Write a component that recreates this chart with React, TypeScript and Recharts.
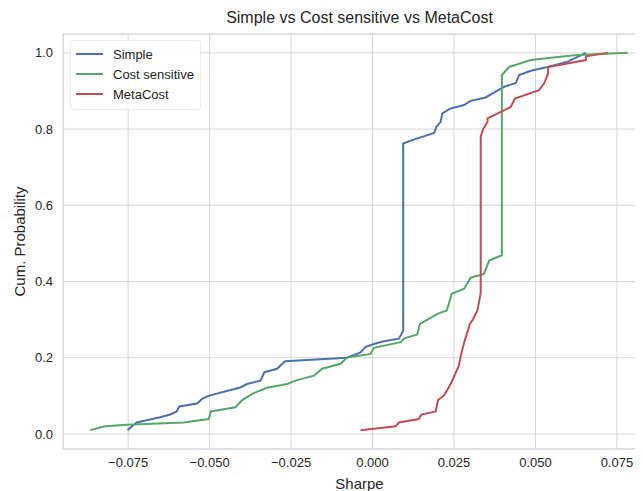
import { LineChart, Line, XAxis, YAxis, CartesianGrid, ReferenceLine } from 'recharts'

// ECDF curves
const simpleX = [
  -0.0752, -0.0724, -0.0652, -0.0621, -0.0601, -0.0593, -0.0539, -0.0523, -0.0503, -0.0442,
  -0.0406, -0.0385, -0.0344, -0.0332, -0.0293, -0.0268, -0.0078, -0.0037, -0.0022, 0.0004,
  0.0035, 0.0081, 0.0086, 0.0094, 0.0094, 0.0122, 0.0189, 0.0196, 0.0209, 0.0214,
  0.024, 0.0281, 0.0301, 0.0347, 0.0378, 0.0404, 0.044, 0.045, 0.0486, 0.0537,
  0.0599, 0.0655,
]
const simpleY = [
  0.01, 0.03, 0.044, 0.051, 0.059, 0.072, 0.08, 0.092, 0.1, 0.114,
  0.122, 0.131, 0.14, 0.162, 0.171, 0.191, 0.2, 0.214, 0.228, 0.236,
  0.243, 0.25, 0.258, 0.271, 0.762, 0.771, 0.79, 0.806, 0.819, 0.841,
  0.854, 0.863, 0.874, 0.883, 0.898, 0.911, 0.921, 0.942, 0.953, 0.963,
  0.977, 1.0,
]

const costX = [
  -0.0867, -0.0821, -0.0754, -0.058, -0.0503, -0.0496, -0.0421, -0.04, -0.0365, -0.0324,
  -0.0262, -0.0237, -0.018, -0.0155, -0.0098, -0.0078, -0.0037, -0.0006, 0.0004, 0.0086,
  0.0098, 0.0137, 0.0146, 0.0199, 0.0228, 0.0243, 0.0281, 0.0301, 0.0342, 0.0358,
  0.0397, 0.0397, 0.0419, 0.0486, 0.0619, 0.0783,
]
const costY = [
  0.01, 0.02, 0.024, 0.03, 0.039, 0.059, 0.07, 0.089, 0.107, 0.121,
  0.131, 0.14, 0.153, 0.171, 0.184, 0.201, 0.206, 0.21, 0.226, 0.241,
  0.251, 0.261, 0.289, 0.315, 0.324, 0.368, 0.381, 0.41, 0.42, 0.455,
  0.469, 0.942, 0.963, 0.981, 0.994, 1.0,
]

const metaX = [
  -0.0037, 0.0071, 0.0081, 0.0142, 0.015, 0.0194, 0.0201, 0.0219, 0.024, 0.0265,
  0.0273, 0.0283, 0.0299, 0.0306, 0.0322, 0.0332, 0.0332, 0.034, 0.0353, 0.0353,
  0.0394, 0.0424, 0.0437, 0.0511, 0.0527, 0.0539, 0.0539, 0.0655, 0.0655, 0.0722,
]
const metaY = [
  0.01, 0.02, 0.03, 0.039, 0.051, 0.059, 0.089, 0.101, 0.131, 0.179,
  0.214, 0.245, 0.289, 0.298, 0.324, 0.37, 0.78, 0.801, 0.819, 0.828,
  0.845, 0.858, 0.88, 0.902, 0.92, 0.946, 0.963, 0.981, 0.991, 1.0,
]

const xTicks = [-0.075, -0.05, -0.025, 0, 0.025, 0.05, 0.075]
const yTicks = [0, 0.2, 0.4, 0.6, 0.8, 1.0]

const toPoints = (xs: number[], ys: number[]) => xs.map((x, i) => ({ x, y: ys[i] }))

const series = [
  { name: 'Simple', color: '#4C72B0', data: toPoints(simpleX, simpleY) },
  { name: 'Cost sensitive', color: '#55A868', data: toPoints(costX, costY) },
  { name: 'MetaCost', color: '#C44E52', data: toPoints(metaX, metaY) },
]

const FONT = '"Liberation Sans", Arial, sans-serif'
const TEXT = '#262626'
const GRID = '#d6d6d6'
const X_MIN = -0.095
const X_MAX = 0.087
const Y_MIN = -0.0395
const Y_MAX = 1.0495

// the original figure is cropped on the right, so the plot runs past the window edge
const CHART_W = 658

const fmtX = (v: number) => (v < 0 ? '\u2212' + Math.abs(v).toFixed(3) : v.toFixed(3))

function LegendBox() {
  return (
    <div
      style={{
        position: 'absolute',
        left: 70,
        top: 40,
        background: 'rgba(255,255,255,0.85)',
        border: '1px solid #ececec',
        borderRadius: 3,
        padding: '3px 6px 5px 5px',
        fontSize: 13,
        color: TEXT,
        zIndex: 2,
      }}
    >
      {series.map((s) => (
        <div key={s.name} style={{ display: 'flex', alignItems: 'center', height: 20 }}>
          <span style={{ display: 'inline-block', width: 27, height: 2, background: s.color, marginRight: 10 }} />
          <span>{s.name}</span>
        </div>
      ))}
    </div>
  )
}

export default function App() {
  return (
    <div
      style={{
        position: 'relative',
        left: -8,
        top: -8,
        width: 643,
        height: 491,
        overflow: 'hidden',
        background: '#fff',
        fontFamily: FONT,
      }}
    >
      <div
        style={{
          position: 'absolute',
          top: 9,
          left: 63,
          width: CHART_W - 65,
          textAlign: 'center',
          fontSize: 16,
          color: TEXT,
          whiteSpace: 'nowrap',
        }}
      >
        Simple vs Cost sensitive vs MetaCost
      </div>
      <LegendBox />
      <LineChart width={CHART_W} height={491} margin={{ top: 34, right: 2, bottom: 0, left: 0 }}>
        <CartesianGrid stroke={GRID} strokeWidth={1} vertical horizontal />
        <XAxis
          dataKey="x"
          type="number"
          domain={[X_MIN, X_MAX]}
          ticks={xTicks}
          tickFormatter={fmtX}
          allowDataOverflow
          height={42}
          tickLine={false}
          tickMargin={3}
          axisLine={{ stroke: GRID }}
          tick={{ fontSize: 13, fill: TEXT, fontFamily: FONT }}
          label={{ value: 'Sharpe', position: 'insideBottom', offset: 2, fontSize: 15, fill: TEXT, fontFamily: FONT }}
        />
        <YAxis
          dataKey="y"
          type="number"
          domain={[Y_MIN, Y_MAX]}
          ticks={yTicks}
          tickFormatter={(v: number) => v.toFixed(1)}
          allowDataOverflow
          width={63}
          tickLine={false}
          tickMargin={4}
          axisLine={{ stroke: GRID }}
          tick={{ fontSize: 13, fill: TEXT, fontFamily: FONT }}
          label={{ value: 'Cum. Probability', angle: -90, position: 'insideLeft', offset: 20, fontSize: 15, fill: TEXT, fontFamily: FONT, style: { textAnchor: 'middle' } }}
        />
        <ReferenceLine y={Y_MAX} stroke={GRID} />
        {series.map((s) => (
          <Line
            key={s.name}
            data={s.data}
            dataKey="y"
            name={s.name}
            type="linear"
            stroke={s.color}
            strokeWidth={2}
            dot={false}
            activeDot={false}
            isAnimationActive={false}
          />
        ))}
      </LineChart>
    </div>
  )
}
